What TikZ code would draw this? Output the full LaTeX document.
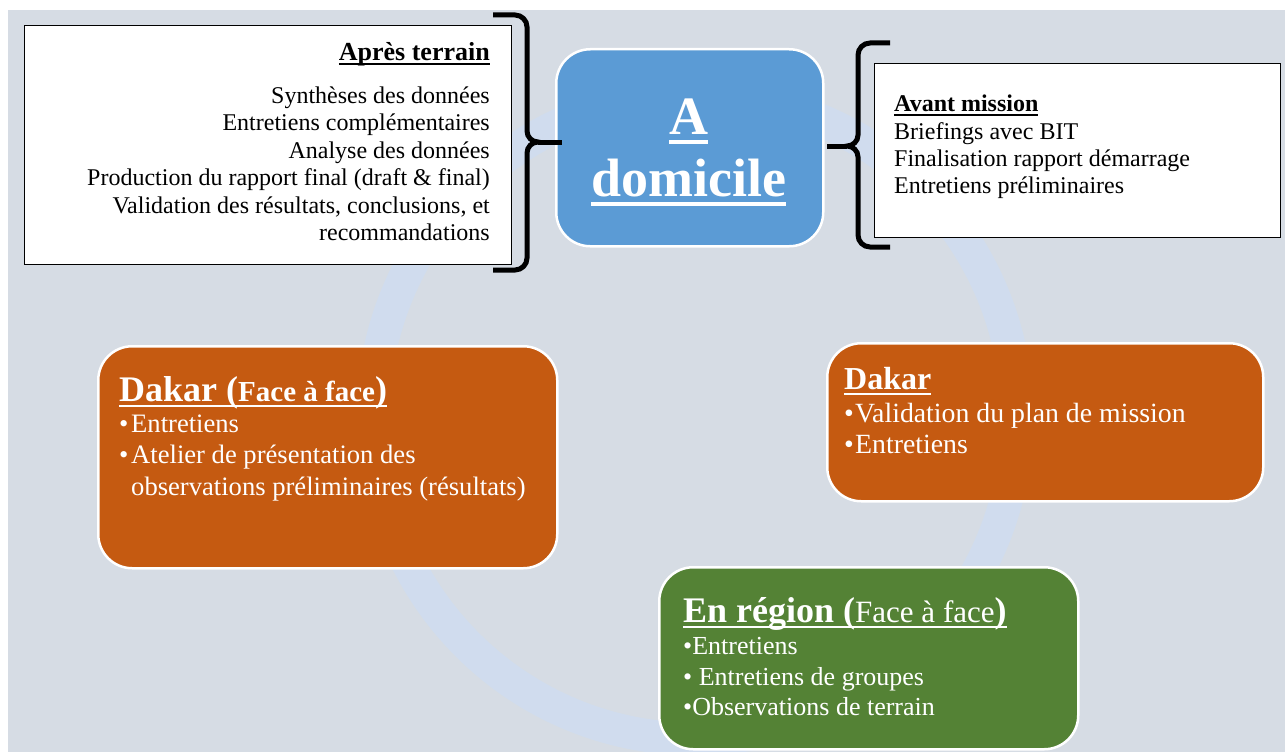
\documentclass[tikz,border=0pt]{standalone}
\usepackage{fontspec}
\setmainfont{Liberation Serif}

\definecolor{bggray}{HTML}{D6DCE4}
\definecolor{ringblue}{HTML}{D0DCEE}
\definecolor{homeblue}{HTML}{5B9BD5}
\definecolor{rust}{HTML}{C55A11}
\definecolor{leaf}{HTML}{548235}

% underline that runs through descenders
\newsavebox{\ulbox}
\newcommand{\wul}[1]{\sbox{\ulbox}{#1}\rlap{\rule[-0.17em]{\wd\ulbox}{0.07em}}\usebox{\ulbox}}

\begin{document}
\begin{tikzpicture}[x=1pt, y=-1pt,
  notebox/.style={draw=black, line width=1.2pt, fill=white, anchor=north west, inner sep=0pt},
  phasebox/.style={draw=white, line width=2.5pt, rounded corners=34pt, anchor=north west, inner sep=0pt},
  phasetext/.style={text=white, anchor=north west, inner sep=0pt, align=left},
  brace/.style={line width=5pt, black}]

% Background and cycle ring
\useasboundingbox (0,0) rectangle (1285,752);
\fill[bggray] (8,10) rectangle (1285,752);
\draw[ringblue, line width=33pt] (695,417) circle [radius=322pt];

% Centre box
\node[phasebox, fill=homeblue, minimum width=267pt, minimum height=197pt] (home) at (555,48) {};
\node[anchor=north, inner sep=0pt, align=center, text=white, font=\fontsize{54}{62}\selectfont\bfseries] (homeText) at (688.5,98.5) {\wul{A}\\\wul{domicile}};

% Notes on either side
\node[notebox, minimum width=487pt, minimum height=239pt] (apres) at (24,25) {};
\node[anchor=north east, inner sep=0pt, align=right, font=\fontsize{24}{27.5}\selectfont] (apresText) at (490,42) {{\fontsize{26}{27.5}\selectfont\bfseries\wul{Après terrain}}\\[15.5pt]
  Synthèses des données\\ Entretiens complémentaires\\ Analyse des données\\
  Production du rapport final (draft \& final)\\ Validation des résultats, conclusions, et\\ recommandations};

\node[notebox, minimum width=406pt, minimum height=174pt] (avant) at (874,63) {};
\node[anchor=north west, inner sep=0pt, align=left, font=\fontsize{24}{27.3}\selectfont] (avantText) at (894,95) {\textbf{\wul{Avant mission}}\\
  Briefings avec BIT\\ Finalisation rapport démarrage\\ Entretiens préliminaires};

% Brackets
\coordinate (apresTip) at (562,142);
\coordinate (avantTip) at (827,146);
\draw[brace] (493,15) -- (515,15) to[out=0,in=90] (527,27) -- (527,131) to[out=-90,in=180] (538,142)
  to[out=180,in=90] (527,153) -- (527,258) to[out=-90,in=0] (515,270) -- (493,270);
\draw[brace] (538,142) -- (apresTip);
\draw[brace] (890,43) -- (870,43) to[out=180,in=90] (858,55) -- (858,135) to[out=-90,in=0] (847,146)
  to[out=0,in=90] (858,157) -- (858,235) to[out=-90,in=180] (870,247) -- (890,247);
\draw[brace] (847,146) -- (avantTip);

% Field phases
\node[phasebox, fill=rust, minimum width=459pt, minimum height=222pt] (dakarLeft) at (97,345) {};
\node[phasetext, font=\fontsize{26.6}{31.3}\selectfont] (dakarLeftText) at (119,376) {\bfseries\fontsize{36}{31.3}\selectfont\wul{Dakar (\fontsize{29}{31.3}\selectfont Face à face\fontsize{36}{31.3}\selectfont)}\\
  \makebox[12pt][l]{•}Entretiens\\ \makebox[12pt][l]{•}Atelier de présentation des\\ \hspace*{12pt}observations préliminaires (résultats)};

\node[phasebox, fill=rust, minimum width=436pt, minimum height=158pt] (dakarRight) at (826,342) {};
\node[phasetext, font=\fontsize{27.8}{31.4}\selectfont] (dakarRightText) at (844,367.5) {\bfseries\fontsize{32}{31.4}\selectfont\wul{Dakar}\\[1pt]
  \makebox[11pt][l]{•}Validation du plan de mission\\ \makebox[11pt][l]{•}Entretiens};

\node[phasebox, fill=leaf, minimum width=419pt, minimum height=182pt] (region) at (658,566) {};
\node[phasetext, font=\fontsize{26}{30.5}\selectfont] (regionText) at (683,597) {\fontsize{36}{30.5}\selectfont\wul{\textbf{En région (}\fontsize{31}{30.5}\selectfont Face à face\fontsize{36}{30.5}\selectfont\textbf{)}}\\[2pt]
  •Entretiens\\ • Entretiens de groupes\\ •Observations de terrain};
\end{tikzpicture}
\end{document}
